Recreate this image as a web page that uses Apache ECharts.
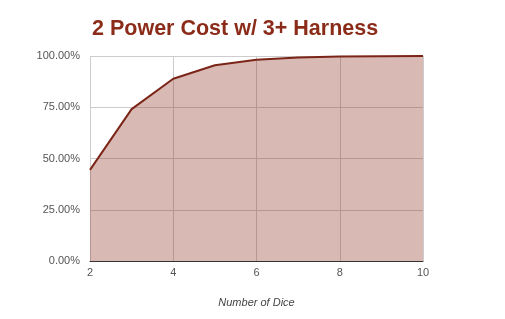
<!DOCTYPE html>
<html><head><meta charset="utf-8">
<script src="https://cdn.jsdelivr.net/npm/echarts@6/dist/echarts.min.js"></script>
<style>html,body{margin:0;padding:0;background:#fff}#c{width:505px;height:319px}</style>
</head><body><div id="c"></div>
<script>
const titleText = "2 Power Cost w/ 3+ Harness";
const xAxisName = "Number of Dice";
const dice = [2, 3, 4, 5, 6, 7, 8, 9, 10];
const probability = [44.44, 74.07, 88.89, 95.47, 98.22, 99.31, 99.74, 99.90, 99.96];
const yTicks = [0, 25, 50, 75, 100];

const chart = echarts.init(document.getElementById('c'), null, {renderer: 'canvas'});
chart.setOption({
  animation: false,
  title: {
    text: titleText, left: 87, top: 13,
    textStyle: {fontFamily: 'Liberation Sans', fontWeight: 'bold', fontSize: 21.5, color: '#8b2c1a'}
  },
  grid: {left: 90, right: 82, top: 56, bottom: 58},
  xAxis: {
    type: 'value', min: 2, max: 10, interval: 2,
    name: xAxisName, nameLocation: 'middle', nameGap: 36,
    nameTextStyle: {fontFamily: 'Liberation Sans', fontStyle: 'italic', fontSize: 11, color: '#444'},
    axisLine: {show: true, lineStyle: {color: '#333', width: 1}},
    axisTick: {show: false},
    axisLabel: {fontFamily: 'Liberation Sans', fontSize: 11, color: '#555', margin: 6},
    splitLine: {show: true, lineStyle: {color: '#ccc'}}
  },
  yAxis: {
    type: 'value', min: 0, max: 100, interval: 25,
    axisLine: {show: false}, axisTick: {show: false},
    axisLabel: {fontFamily: 'Liberation Sans', fontSize: 11, color: '#555', margin: 10,
      formatter: v => yTicks.includes(v) ? v.toFixed(2) + '%' : ''},
    splitLine: {show: true, lineStyle: {color: '#ccc'}}
  },
  series: [{
    type: 'line',
    data: dice.map((d, i) => [d, probability[i]]),
    showSymbol: false,
    lineStyle: {color: '#7a2518', width: 2},
    areaStyle: {color: '#8b2c1a', opacity: 0.33}
  }]
});
</script></body></html>
